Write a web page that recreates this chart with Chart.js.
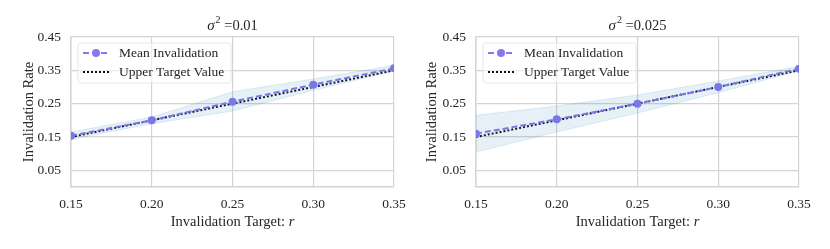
<!DOCTYPE html>
<html>
<head>
<meta charset="utf-8">
<script src="https://cdn.jsdelivr.net/npm/chart.js@4.4.1/dist/chart.umd.min.js"></script>
<style>
  body { margin: 0; background: #fff; }
  #wrap { width: 830px; height: 249px; display: flex; }
  canvas { display: block; }
</style>
</head>
<body>
<div id="wrap">
  <canvas id="grafico1" width="415" height="249"></canvas>
  <canvas id="grafico2" width="415" height="249"></canvas>
</div>
<script>
// datos
const targets = [0.15, 0.20, 0.25, 0.30, 0.35];
const upperTarget = [0.15, 0.20, 0.25, 0.30, 0.35];

const mean001 = [0.154, 0.200, 0.256, 0.307, 0.356];
const upper001 = [0.165, 0.210, 0.286, 0.324, 0.365];
const lower001 = [0.143, 0.190, 0.228, 0.290, 0.348];

const mean0025 = [0.160, 0.203, 0.250, 0.300, 0.355];
const upper0025 = [0.215, 0.243, 0.276, 0.318, 0.362];
const lower0025 = [0.105, 0.165, 0.222, 0.283, 0.349];

const xTicks = [0.15, 0.20, 0.25, 0.30, 0.35];
const yTicks = [0.05, 0.15, 0.25, 0.35, 0.45];

const SERIF = '"Liberation Serif", "DejaVu Serif", serif';
const GRID = '#d4d4d4';
const PURPLE = '#8878f0';
const TEXTO = '#262626';

function puntos(valores) {
    return targets.map(function (x, i) { return { x: x, y: valores[i] }; });
}

// titulo con sigma y superindice, y titulo del eje x con r en cursiva
const tituloPlugin = {
    id: 'tituloSigma',
    afterDraw: function (chart, args, opts) {
        const ctx = chart.ctx;
        const area = chart.chartArea;
        const cx = (area.left + area.right) / 2;
        ctx.save();
        ctx.fillStyle = TEXTO;
        ctx.textBaseline = 'alphabetic';
        const f1 = 'italic 15px ' + SERIF;
        const f2 = '10px ' + SERIF;
        const f3 = '14.5px ' + SERIF;
        const resto = ' =' + opts.valor;
        ctx.font = f1; const w1 = ctx.measureText('σ').width;
        ctx.font = f2; const w2 = ctx.measureText('2').width;
        ctx.font = f3; const w3 = ctx.measureText(resto).width;
        let x = cx - (w1 + w2 + w3 + 1) / 2;
        const y = 30;
        ctx.font = f1; ctx.fillText('σ', x, y); x += w1 + 1;
        ctx.font = f2; ctx.fillText('2', x, y - 7); x += w2;
        ctx.font = f3; ctx.fillText(resto, x, y);

        // titulo eje x
        const t1 = 'Invalidation Target: ';
        const fa = '14.5px ' + SERIF;
        const fb = 'italic 14.5px ' + SERIF;
        ctx.font = fa; const a = ctx.measureText(t1).width;
        ctx.font = fb; const b = ctx.measureText('r').width;
        let xx = cx - (a + b) / 2;
        ctx.textBaseline = 'middle';
        ctx.font = fa; ctx.fillText(t1, xx, 222);
        ctx.font = fb; ctx.fillText('r', xx + a, 222);
        ctx.restore();
    }
};

// leyenda dentro del area del grafico
const leyendaPlugin = {
    id: 'leyendaInterna',
    afterDatasetsDraw: function (chart) {
        const ctx = chart.ctx;
        const area = chart.chartArea;
        const x0 = area.left + 7, y0 = 43, w = 153, h = 40;
        ctx.save();
        ctx.beginPath();
        ctx.roundRect(x0, y0, w, h, 3);
        ctx.fillStyle = 'rgba(255,255,255,0.55)';
        ctx.fill();
        ctx.strokeStyle = 'rgba(228,228,228,0.9)';
        ctx.lineWidth = 1;
        ctx.stroke();

        // fila 1
        let yy = 53;
        ctx.beginPath();
        ctx.setLineDash([6, 3]);
        ctx.strokeStyle = PURPLE;
        ctx.lineWidth = 2;
        ctx.moveTo(x0 + 5, yy);
        ctx.lineTo(x0 + 31, yy);
        ctx.stroke();
        ctx.setLineDash([]);
        ctx.beginPath();
        ctx.arc(x0 + 18, yy, 4, 0, Math.PI * 2);
        ctx.fillStyle = PURPLE;
        ctx.fill();

        // fila 2
        yy = 72;
        ctx.beginPath();
        ctx.setLineDash([2, 2]);
        ctx.strokeStyle = '#111';
        ctx.lineWidth = 2;
        ctx.moveTo(x0 + 5, yy);
        ctx.lineTo(x0 + 31, yy);
        ctx.stroke();
        ctx.setLineDash([]);

        ctx.fillStyle = TEXTO;
        ctx.font = '13.5px ' + SERIF;
        ctx.textBaseline = 'middle';
        ctx.fillText('Mean Invalidation', x0 + 41, 53);
        ctx.fillText('Upper Target Value', x0 + 41, 72);
        ctx.restore();
    }
};

function graficoInvalidacion(id, media, superior, inferior, sigma, padIzq, anchoY, padDer) {
    const ctx = document.getElementById(id).getContext('2d');
    return new Chart(ctx, {
        type: 'line',
        data: {
            datasets: [
                {
                    label: 'upper',
                    data: puntos(superior),
                    borderColor: 'rgba(31,119,180,0.12)',
                    borderWidth: 1,
                    pointRadius: 0,
                    fill: false,
                    clip: 0
                },
                {
                    label: 'lower',
                    data: puntos(inferior),
                    borderColor: 'rgba(31,119,180,0.12)',
                    backgroundColor: 'rgba(31,119,180,0.11)',
                    borderWidth: 1,
                    pointRadius: 0,
                    fill: '-1',
                    clip: 0
                },
                {
                    label: 'Mean Invalidation',
                    data: puntos(media),
                    borderColor: PURPLE,
                    borderWidth: 2,
                    borderDash: [6, 3],
                    pointRadius: 4,
                    pointBackgroundColor: PURPLE,
                    pointBorderWidth: 0,
                    fill: false,
                    clip: 0
                },
                {
                    label: 'Upper Target Value',
                    data: puntos(upperTarget),
                    borderColor: '#111',
                    borderWidth: 2,
                    borderDash: [2, 2],
                    pointRadius: 0,
                    fill: false,
                    clip: 0
                }
            ]
        },
        options: {
            responsive: false,
            animation: false,
            layout: { padding: { top: 37, left: padIzq, right: padDer, bottom: 0 } },
            plugins: {
                legend: { display: false },
                tooltip: { enabled: false },
                tituloSigma: { valor: sigma }
            },
            scales: {
                x: {
                    type: 'linear',
                    min: 0.15,
                    max: 0.35,
                    afterBuildTicks: function (s) { s.ticks = xTicks.map(function (v) { return { value: v }; }); },
                    afterFit: function (s) { s.height = 62; },
                    grid: { color: GRID, lineWidth: 1.2, drawTicks: false },
                    border: { color: GRID, width: 1.5 },
                    ticks: {
                        padding: 9,
                        color: TEXTO,
                        font: { family: SERIF, size: 13.5 },
                        maxRotation: 0,
                        callback: function (v) { return v.toFixed(2); }
                    }
                },
                y: {
                    min: 0,
                    max: 0.45,
                    afterBuildTicks: function (s) { s.ticks = yTicks.map(function (v) { return { value: v }; }); },
                    afterFit: function (s) { s.width = anchoY; },
                    grid: { color: GRID, lineWidth: 1.2, drawTicks: false },
                    border: { color: GRID, width: 1.5 },
                    ticks: {
                        padding: 10,
                        color: TEXTO,
                        font: { family: SERIF, size: 13.5 },
                        callback: function (v) { return v.toFixed(2); }
                    },
                    title: {
                        display: true,
                        text: 'Invalidation Rate',
                        color: TEXTO,
                        font: { family: SERIF, size: 14.5 },
                        padding: 0
                    }
                }
            }
        },
        plugins: [leyendaPlugin, tituloPlugin]
    });
}

graficoInvalidacion('grafico1', mean001, upper001, lower001, '0.01', 20, 51, 21);
graficoInvalidacion('grafico2', mean0025, upper0025, lower0025, '0.025', 8, 53, 31);
</script>
</body>
</html>
